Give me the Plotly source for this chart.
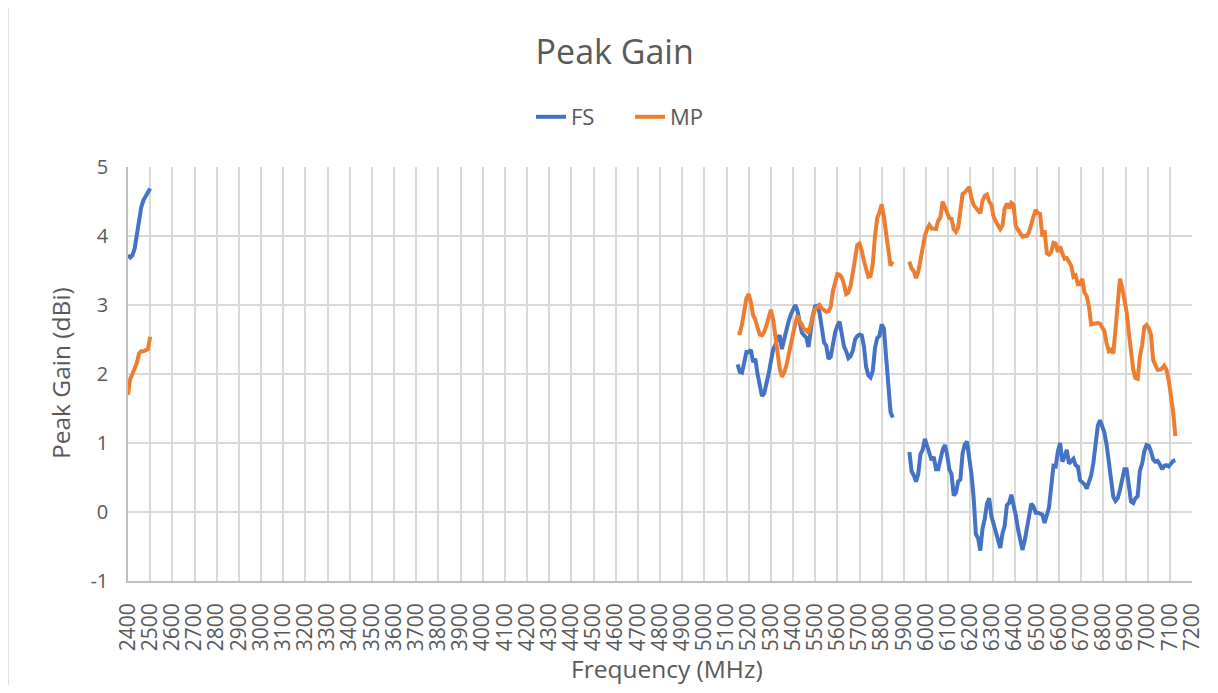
import plotly.graph_objects as go

# Frequency categories (MHz) for the three measured bands
freq_a = list(range(2400, 2501, 10))
freq_b = list(range(5150, 5851, 10))
freq_c = list(range(5925, 7126, 10))

# FS series (dBi)
fs_a = [3.72, 3.69, 3.72, 3.82, 4.02, 4.26, 4.42, 4.52, 4.57, 4.62, 4.69]
fs_b = [2.14, 2.03, 2.02, 2.18, 2.32, 2.32, 2.35, 2.17, 2.22, 2.00,
        1.85, 1.68, 1.72, 1.85, 2.00, 2.18, 2.35, 2.42, 2.52, 2.56,
        2.36, 2.50, 2.66, 2.76, 2.86, 2.93, 3.00, 2.92, 2.76, 2.60,
        2.56, 2.53, 2.39, 2.61, 2.86, 2.98, 2.99, 2.88, 2.69, 2.46,
        2.41, 2.22, 2.25, 2.43, 2.60, 2.70, 2.76, 2.58, 2.40, 2.33,
        2.23, 2.26, 2.34, 2.50, 2.55, 2.57, 2.56, 2.40, 2.10, 1.98,
        1.95, 2.05, 2.38, 2.52, 2.55, 2.72, 2.66, 2.25, 1.78, 1.45,
        1.37]
fs_c = [0.87, 0.59, 0.53, 0.44, 0.55, 0.84, 0.90, 1.06, 0.96, 0.86,
        0.75, 0.80, 0.62, 0.62, 0.76, 0.90, 0.97, 0.84, 0.62, 0.55,
        0.24, 0.28, 0.44, 0.47, 0.85, 0.98, 1.02, 0.80, 0.55, 0.20,
        -0.32, -0.38, -0.56, -0.24, -0.10, 0.12, 0.20, -0.06, -0.17, -0.25,
        -0.40, -0.52, -0.31, -0.20, 0.10, 0.13, 0.25, 0.12, -0.05, -0.25,
        -0.42, -0.55, -0.42, -0.22, -0.08, 0.12, 0.08, -0.01, -0.01, -0.02,
        -0.04, -0.16, -0.05, 0.07, 0.37, 0.67, 0.66, 0.88, 1.00, 0.73,
        0.80, 0.90, 0.70, 0.73, 0.77, 0.68, 0.66, 0.46, 0.43, 0.40,
        0.34, 0.45, 0.53, 0.71, 1.00, 1.25, 1.33, 1.24, 1.15, 0.97,
        0.70, 0.42, 0.22, 0.16, 0.20, 0.32, 0.49, 0.62, 0.62, 0.40,
        0.15, 0.13, 0.20, 0.23, 0.60, 0.70, 0.88, 0.97, 0.96, 0.88,
        0.76, 0.73, 0.74, 0.69, 0.62, 0.67, 0.68, 0.66, 0.70, 0.74,
        0.75]

# MP series (dBi)
mp_a = [1.70, 1.93, 2.00, 2.08, 2.16, 2.30, 2.33, 2.33, 2.35, 2.36, 2.54]
mp_b = [2.59, 2.59, 2.72, 2.92, 3.10, 3.16, 3.04, 2.85, 2.79, 2.67,
        2.57, 2.56, 2.61, 2.70, 2.80, 2.93, 2.80, 2.55, 2.31, 2.08,
        1.96, 2.02, 2.12, 2.30, 2.46, 2.58, 2.72, 2.85, 2.76, 2.72,
        2.64, 2.64, 2.59, 2.74, 2.85, 2.94, 2.98, 3.00, 2.95, 2.92,
        2.90, 2.91, 2.97, 3.20, 3.32, 3.45, 3.44, 3.40, 3.30, 3.16,
        3.18, 3.28, 3.47, 3.72, 3.87, 3.89, 3.79, 3.64, 3.50, 3.41,
        3.42, 3.60, 4.00, 4.26, 4.34, 4.46, 4.28, 4.02, 3.78, 3.57,
        3.63]
mp_c = [3.63, 3.53, 3.49, 3.39, 3.48, 3.68, 3.87, 4.00, 4.10, 4.16,
        4.11, 4.10, 4.10, 4.22, 4.27, 4.50, 4.43, 4.34, 4.26, 4.25,
        4.10, 4.06, 4.12, 4.36, 4.61, 4.63, 4.68, 4.71, 4.55, 4.45,
        4.41, 4.36, 4.33, 4.51, 4.58, 4.60, 4.50, 4.45, 4.28, 4.21,
        4.15, 4.10, 4.15, 4.40, 4.47, 4.40, 4.48, 4.45, 4.14, 4.08,
        4.03, 3.99, 4.00, 4.00, 4.06, 4.19, 4.28, 4.38, 4.33, 4.32,
        3.99, 4.08, 3.75, 3.73, 3.77, 3.90, 3.89, 3.77, 3.85, 3.75,
        3.67, 3.68, 3.61, 3.57, 3.41, 3.43, 3.30, 3.30, 3.38, 3.18,
        3.13, 2.98, 2.72, 2.73, 2.74, 2.74, 2.73, 2.68, 2.62, 2.44,
        2.33, 2.35, 2.30, 2.65, 3.10, 3.38, 3.25, 3.10, 2.90, 2.60,
        2.30, 2.06, 1.94, 1.93, 2.25, 2.42, 2.68, 2.71, 2.66, 2.57,
        2.20, 2.11, 2.06, 2.06, 2.08, 2.12, 2.06, 1.91, 1.70, 1.45,
        1.10]

x_ticks = list(range(2400, 7201, 100))
y_ticks = [-1, 0, 1, 2, 3, 4, 5]

TXT = "#595959"
FONT = "Open Sans"

# page body has an 8px margin: figure is sized so the page never scrolls
W, H = 1202, 677
PL, PR, PT, PB = 120, 1184, 159, 573   # plot area in figure pixels


def joined(*parts):
    out = []
    for i, p in enumerate(parts):
        if i:
            out.append(None)
        out.extend(p)
    return out


fig = go.Figure()
fig.add_trace(go.Scatter(
    x=joined(freq_a, freq_b, freq_c), y=joined(fs_a, fs_b, fs_c),
    name="FS", mode="lines", connectgaps=False,
    line=dict(color="#4472C4", width=4)))
fig.add_trace(go.Scatter(
    x=joined(freq_a, freq_b, freq_c), y=joined(mp_a, mp_b, mp_c),
    name="MP", mode="lines", connectgaps=False,
    line=dict(color="#ED7D31", width=4)))

pw, ph = PR - PL, PB - PT


def px(x):
    return (x - PL) / pw


def py(y):
    return (PB - y) / ph


fig.update_layout(
    width=W, height=H, autosize=False,
    margin=dict(l=PL, r=W - PR, t=PT, b=H - PB, autoexpand=False),
    paper_bgcolor="white", plot_bgcolor="white",
    font=dict(family=FONT, color=TXT),
    title=dict(text="Peak Gain", x=606.7 / W, xref="container", xanchor="center",
               y=1 - 44 / H, yref="container", yanchor="middle",
               font=dict(size=34, color=TXT, family=FONT)),
    legend=dict(orientation="h", x=px(622), xanchor="center",
                y=py(109), yanchor="middle",
                font=dict(size=22, color=TXT, family=FONT),
                bgcolor="rgba(0,0,0,0)", entrywidth=54),
    showlegend=True,
)

fig.update_xaxes(
    range=[2400, 7200], tickmode="array", tickvals=x_ticks,
    ticktext=[str(v) for v in x_ticks], tickangle=-90,
    tickfont=dict(size=21, color=TXT, family=FONT),
    showgrid=True, gridcolor="#d9d9d9", gridwidth=1.5,
    showline=True, linecolor="#bfbfbf", linewidth=1.5,
    zeroline=False, ticks="", ticklabelstandoff=12, automargin=False,
)
fig.update_yaxes(
    range=[-1, 5], tickmode="array", tickvals=y_ticks,
    ticktext=[str(v) for v in y_ticks],
    tickfont=dict(size=20, color=TXT, family=FONT),
    showgrid=True, gridcolor="#d9d9d9", gridwidth=1.5,
    showline=True, linecolor="#bfbfbf", linewidth=1.5,
    zeroline=False, ticks="", ticklabelstandoff=14, automargin=False,
)

fig.add_annotation(text="Peak Gain (dBi)", textangle=-90,
                   x=px(52), xref="paper", xanchor="center",
                   y=py(365), yref="paper", yanchor="middle", showarrow=False,
                   font=dict(size=24.5, color=TXT, family=FONT))
fig.add_annotation(text="Frequency (MHz)",
                   x=px(658.7), xref="paper", xanchor="center",
                   y=py(660), yref="paper", yanchor="middle",
                   showarrow=False,
                   font=dict(size=24.5, color=TXT, family=FONT))

# outer chart border (only left/top edges fall inside the picture)
fig.add_shape(type="rect", xref="paper", yref="paper",
              x0=px(0), x1=px(W + 40), y0=py(H + 40), y1=py(-2),
              line=dict(color="#d9d9d9", width=1.5), layer="below")

fig.write_html("out.html")
